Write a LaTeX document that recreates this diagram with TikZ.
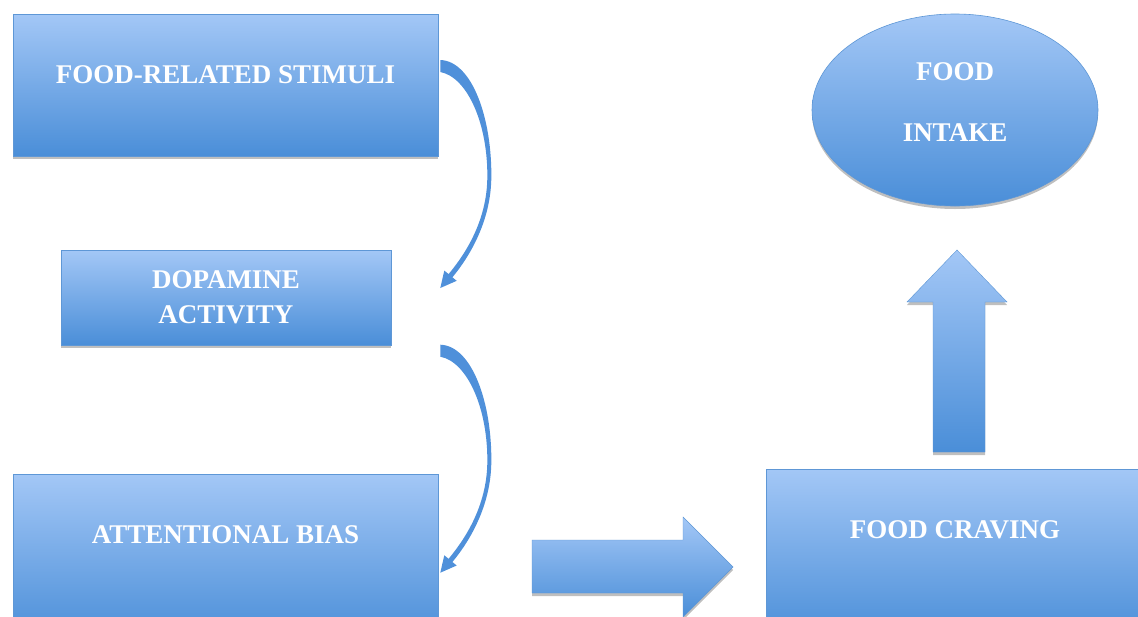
\documentclass[tikz,border=0pt]{standalone}
\usepackage{fontspec}
\setmainfont{Liberation Serif}
\usetikzlibrary{shadows,calc,shapes.geometric}
\definecolor{bluetop}{HTML}{A3C7F6}
\definecolor{bluebot}{HTML}{4A8ED8}
\definecolor{blueedge}{HTML}{5E97D6}
\definecolor{arrowblue}{HTML}{4F90DA}
\tikzset{
  shad/.style={drop shadow={shadow xshift=0pt, shadow yshift=-3pt, opacity=0.25, fill=black}},
  box/.style={rectangle, draw=blueedge, line width=0.6pt, top color=bluetop, bottom color=bluebot, inner sep=0pt, shad},
  oval/.style={ellipse, draw=blueedge, line width=0.6pt, top color=bluetop, bottom color=bluebot, inner sep=0pt, shad},
  lbl/.style={text=white, font=\bfseries\fontsize{27}{35}\selectfont, align=center, inner sep=0pt},
  blockarrow/.style={draw=blueedge, line width=0.4pt, top color=bluetop, bottom color=bluebot, shad},
  curved/.style={fill=arrowblue, draw=none},
  pics/bend/.style={code={
    \path[curved] (0,-7) .. controls (32,-6) and (52,52) .. (51,112)
      .. controls (50,160) and (24,196) .. (12.1,210.3)
      -- (16.4,213.8) -- (0,221) -- (4.0,203.6) -- (8.3,207.1)
      .. controls (19,194) and (46,160) .. (47,112)
      .. controls (48,57) and (27,10) .. (0,5) -- cycle;
  }}
}
\begin{document}
\begin{tikzpicture}[x=1pt,y=-1pt]
\useasboundingbox (0,0) rectangle (1138,616);
\clip (0,0) rectangle (1138,616);
\fill[white] (0,0) rectangle (1138,616);
% boxes
\node[box, minimum width=425pt, minimum height=142pt] (b1) at (225.5,85) {};
\node[box, minimum width=330pt, minimum height=95pt] (b2) at (226,297.5) {};
\node[box, minimum width=425pt, minimum height=166pt] (b3) at (225.5,557) {};
\node[box, minimum width=380pt, minimum height=171pt] (b4) at (956,554.5) {};
\node[oval, minimum width=286pt, minimum height=192pt] (e) at (955,110) {};
% labels
\node[lbl] (t1) at (225.5,75) {FOOD-RELATED STIMULI};
\node[lbl] (t2) at (226,297.5) {DOPAMINE\\ACTIVITY};
\node[lbl] (t3) at (225.5,535) {ATTENTIONAL BIAS};
\node[lbl] (t4) at (955,530) {FOOD CRAVING};
\node[lbl, font=\bfseries\fontsize{27}{61}\selectfont] (t5) at (955,102.5) {FOOD\\INTAKE};
% curved arrows
\pic at ([xshift=2pt,yshift=18pt]b1.east) {bend};
\pic at ([xshift=2pt,yshift=122pt]b3.north east) {bend};
% block arrows
\path[blockarrow] (532,540) -- (683,540) -- (683,517) -- (733,567) -- (683,617) -- (683,593) -- (532,593) -- cycle;
\path[blockarrow] (933,452) -- (933,302) -- (907,302) -- (957,250) -- (1007,302) -- (985,302) -- (985,452) -- cycle;
\end{tikzpicture}
\end{document}
